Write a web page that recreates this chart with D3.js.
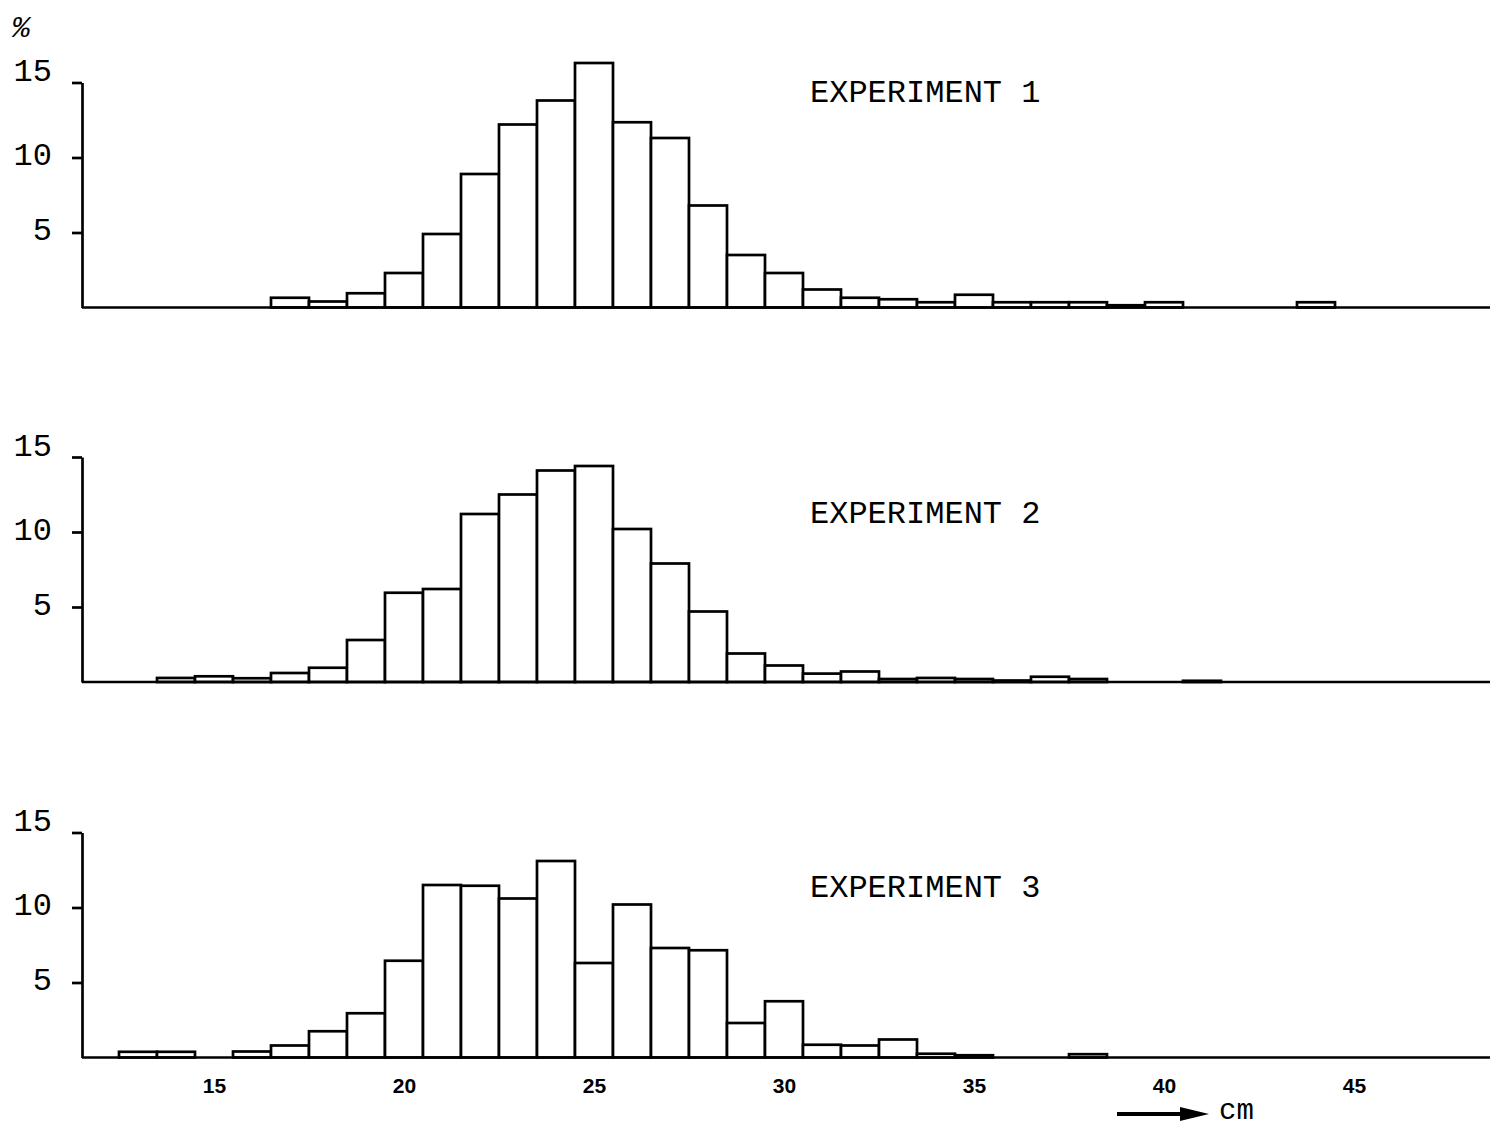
<!DOCTYPE html>
<html>
<head>
<meta charset="utf-8">
<script src="https://cdn.jsdelivr.net/npm/d3@7"></script>
<style>
  body { margin: 0; background: #fff; }
  svg { display: block; }
  .bar { fill: #fff; stroke: #000; stroke-width: 2.7; }
  .axis path, .axis line { stroke: #000; stroke-width: 2.7; }
  .y.axis text { font-family: "Courier New", "Liberation Mono", monospace; font-size: 32px; fill: #000; }
  .x.axis text { font-family: "Liberation Sans", Arial, sans-serif; font-weight: bold; font-size: 21px; fill: #000; }
  .label { font-family: "Courier New", "Liberation Mono", monospace; font-size: 32px; fill: #000; }
</style>
</head>
<body>
<div id="chart"></div>
<script>
// bin centres in cm (each bar is 1 cm wide)
const bins = [12, 13, 14, 15, 16, 17, 18, 19, 20, 21, 22, 23, 24, 25, 26, 27, 28, 29,
  30, 31, 32, 33, 34, 35, 36, 37, 38, 39, 40, 41, 42, 43, 44, 45, 46];

// percentage per bin
const exp1 = [0, 0, 0, 0, 0, 0.65, 0.4, 0.95, 2.3, 4.9, 8.9, 12.2, 13.8, 16.3, 12.35, 11.3, 6.8, 3.5,
  2.3, 1.2, 0.65, 0.55, 0.35, 0.85, 0.35, 0.35, 0.35, 0.15, 0.35, 0, 0, 0, 0.35, 0, 0];
const exp2 = [0, 0, 0.27, 0.38, 0.25, 0.6, 0.95, 2.8, 5.95, 6.2, 11.2, 12.5, 14.1, 14.4, 10.2, 7.9, 4.7, 1.9,
  1.1, 0.56, 0.7, 0.2, 0.27, 0.2, 0.1, 0.35, 0.2, 0, 0, 0.08, 0, 0, 0, 0, 0];
const exp3 = [0, 0.38, 0.38, 0, 0.4, 0.8, 1.75, 2.95, 6.45, 11.5, 11.45, 10.6, 13.1, 6.3, 10.2, 7.3, 7.15, 2.3,
  3.75, 0.85, 0.8, 1.2, 0.25, 0.15, 0, 0, 0.22, 0, 0, 0, 0, 0, 0, 0, 0];

const panels = [
  { name: "EXPERIMENT 1", values: exp1 },
  { name: "EXPERIMENT 2", values: exp2 },
  { name: "EXPERIMENT 3", values: exp3 }
];

const yTicks = [5, 10, 15];
const xTicks = [15, 20, 25, 30, 35, 40, 45];

const width = 1490, height = 1129;
const axisX = 82;
const baselines = [307.5, 682, 1057.5];
const panelH = 225;

const svg = d3.select("#chart").append("svg")
  .attr("width", width)
  .attr("height", height);

svg.append("rect").attr("width", width).attr("height", height).attr("fill", "#fff");

const x = d3.scaleLinear().domain([15, 45]).range([214, 1354]);

svg.append("text")
  .attr("class", "label")
  .attr("x", 12)
  .attr("y", 37)
  .style("font-size", "30px")
  .style("font-style", "italic")
  .text("%");

panels.forEach((p, i) => {
  const base = baselines[i];
  const y = d3.scaleLinear().domain([0, 15]).range([base, base - panelH]);
  const g = svg.append("g");

  const data = bins.map((b, j) => ({ bin: b, value: p.values[j] })).filter(d => d.value > 0);

  g.selectAll("rect")
    .data(data)
    .enter().append("rect")
    .attr("class", "bar")
    .attr("x", d => x(d.bin - 0.5))
    .attr("y", d => y(d.value))
    .attr("width", d => x(d.bin + 0.5) - x(d.bin - 0.5))
    .attr("height", d => y(0) - y(d.value));

  // baseline running to the right edge
  g.append("line")
    .attr("x1", axisX).attr("x2", width)
    .attr("y1", y(0)).attr("y2", y(0))
    .attr("stroke", "#000").attr("stroke-width", 2.7);

  const ya = g.append("g")
    .attr("class", "y axis")
    .attr("transform", "translate(" + axisX + ",0)")
    .call(d3.axisLeft(y).tickValues(yTicks).tickSize(10).tickSizeOuter(0).tickPadding(20).tickFormat(d3.format("d")));

  ya.selectAll("text")
    .attr("dy", d => d == 15 ? "-0.05em" : "0.22em");

  g.append("text")
    .attr("class", "label")
    .attr("x", 810)
    .attr("y", [102, 523, 897][i])
    .text(p.name);
});

const xa = svg.append("g")
  .attr("class", "x axis")
  .attr("transform", "translate(0," + baselines[2] + ")")
  .call(d3.axisBottom(x).tickValues(xTicks).tickSize(0).tickPadding(21));
xa.select(".domain").remove();

// arrow and unit
svg.append("line")
  .attr("x1", 1117).attr("x2", 1186)
  .attr("y1", 1114).attr("y2", 1114)
  .attr("stroke", "#000").attr("stroke-width", 4);
svg.append("path")
  .attr("d", "M1180,1107 L1209,1114 L1180,1121 Z")
  .attr("fill", "#000");
svg.append("text")
  .attr("class", "label")
  .attr("x", 1219)
  .attr("y", 1119)
  .style("font-size", "29px")
  .text("cm");
</script>
</body>
</html>
